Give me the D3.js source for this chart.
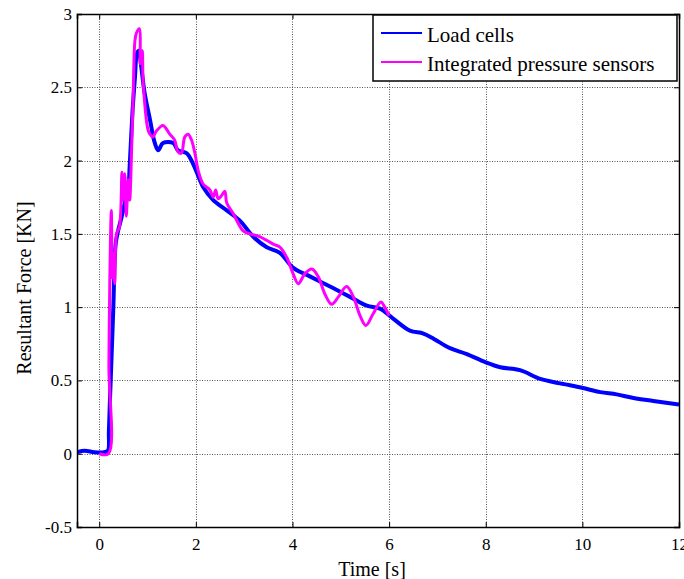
<!DOCTYPE html>
<html>
<head>
<meta charset="utf-8">
<script src="https://cdn.jsdelivr.net/npm/d3@7"></script>
<style>
  html, body { margin: 0; padding: 0; background: #fff; }
  svg { display: block; }
  text { font-family: "Liberation Serif", "Times New Roman", serif; fill: #000; }
</style>
</head>
<body>
<svg id="chart" width="684" height="579"></svg>
<script>
// ---- data ----
const xTicks = [0, 2, 4, 6, 8, 10, 12];
const yTicks = [-0.5, 0, 0.5, 1, 1.5, 2, 2.5, 3];
const seriesNames = ["Load cells", "Integrated pressure sensors"];
const seriesColors = ["#0000ff", "#ff00ff"];

const loadTime = [-0.46, -0.3, -0.1, 0.1, 0.18, 0.20, 0.22, 0.24, 0.29, 0.34, 0.39, 0.46, 0.53, 0.60, 0.63, 0.69, 0.74, 0.78, 0.82, 0.87, 0.94, 1.05, 1.15, 1.22, 1.32, 1.53, 1.63, 1.81, 1.94, 2.08, 2.15, 2.36, 2.64, 2.91, 3.19, 3.46, 3.74, 4.01, 4.36, 4.84, 5.19, 5.54, 5.81, 6.09, 6.43, 6.71, 6.92, 7.26, 7.61, 7.99, 8.30, 8.71, 9.13, 9.54, 9.99, 10.37, 10.71, 11.06, 11.47, 12.0];
const loadForce = [0.01, 0.02, 0.01, 0.01, 0.02, 0.15, 0.35, 0.52, 0.98, 1.43, 1.52, 1.61, 1.71, 1.80, 1.96, 2.34, 2.57, 2.73, 2.75, 2.64, 2.46, 2.28, 2.12, 2.07, 2.12, 2.12, 2.07, 2.05, 1.98, 1.87, 1.82, 1.73, 1.66, 1.59, 1.48, 1.41, 1.37, 1.27, 1.21, 1.13, 1.07, 1.01, 0.99, 0.92, 0.84, 0.82, 0.785, 0.72, 0.68, 0.625, 0.59, 0.57, 0.51, 0.48, 0.45, 0.42, 0.405, 0.38, 0.36, 0.335];

const pressTime = [0, 0.19, 0.20, 0.22, 0.25, 0.27, 0.29, 0.32, 0.36, 0.42, 0.47, 0.49, 0.53, 0.56, 0.60, 0.63, 0.67, 0.70, 0.74, 0.77, 0.83, 0.85, 0.89, 0.91, 1.01, 1.05, 1.11, 1.18, 1.32, 1.46, 1.56, 1.63, 1.70, 1.77, 1.84, 1.91, 1.98, 2.05, 2.15, 2.29, 2.36, 2.41, 2.46, 2.53, 2.60, 2.64, 2.77, 2.98, 3.12, 3.33, 3.60, 3.74, 3.88, 4.01, 4.12, 4.26, 4.40, 4.53, 4.67, 4.81, 4.95, 5.12, 5.26, 5.40, 5.52, 5.67, 5.83, 5.91, 6.00];
const pressForce = [0, 0, 0.6, 1.2, 1.66, 1.2, 1.37, 1.16, 1.50, 1.55, 1.92, 1.73, 1.91, 1.62, 1.87, 1.73, 2.07, 2.41, 2.82, 2.87, 2.90, 2.66, 2.75, 2.53, 2.21, 2.18, 2.16, 2.20, 2.24, 2.18, 2.14, 2.06, 2.05, 2.16, 2.18, 2.14, 2.05, 1.93, 1.84, 1.80, 1.75, 1.80, 1.74, 1.76, 1.79, 1.71, 1.64, 1.52, 1.50, 1.48, 1.43, 1.41, 1.34, 1.23, 1.16, 1.23, 1.26, 1.21, 1.09, 1.02, 1.07, 1.14, 1.07, 0.94, 0.875, 0.955, 1.035, 1.00, 0.94];

// ---- layout ----
const L = 77, R = 679, T = 14, B = 527;
const svg = d3.select("#chart");
const x = d3.scaleLinear().domain([-0.46, 12]).range([L, R]);
const y = d3.scaleLinear().domain([-0.5, 3]).range([B, T]);

// grid
const grid = svg.append("g").attr("stroke", "#555").attr("stroke-width", 1).attr("stroke-dasharray", "1,1.5");
grid.selectAll("line.gx").data(xTicks).join("line")
  .attr("x1", d => Math.round(x(d)) + 0.5).attr("x2", d => Math.round(x(d)) + 0.5)
  .attr("y1", T).attr("y2", B);
grid.selectAll("line.gy").data(yTicks).join("line")
  .attr("y1", d => Math.round(y(d)) + 0.5).attr("y2", d => Math.round(y(d)) + 0.5)
  .attr("x1", L).attr("x2", R);

// lines
const line = d3.line().x(d => x(d[0])).y(d => y(d[1])).curve(d3.curveCatmullRom.alpha(0.5));
svg.append("clipPath").attr("id", "clip").append("rect")
  .attr("x", L).attr("y", T).attr("width", R - L).attr("height", B - T);
const plot = svg.append("g").attr("clip-path", "url(#clip)");
plot.append("path").datum(d3.zip(loadTime, loadForce))
  .attr("fill", "none").attr("stroke", seriesColors[0]).attr("stroke-width", 4)
  .attr("stroke-linejoin", "round").attr("d", line);
plot.append("path").datum(d3.zip(pressTime, pressForce))
  .attr("fill", "none").attr("stroke", seriesColors[1]).attr("stroke-width", 3)
  .attr("stroke-linejoin", "round").attr("d", line);

// axes
const fontSize = "17px";
const axB = svg.append("g").attr("transform", `translate(0,${B})`)
  .call(d3.axisBottom(x).tickValues(xTicks).tickSize(-5).tickPadding(11).tickFormat(d3.format("")));
const axT = svg.append("g").attr("transform", `translate(0,${T})`)
  .call(d3.axisTop(x).tickValues(xTicks).tickSize(-5).tickFormat(""));
const axL = svg.append("g").attr("transform", `translate(${L},0)`)
  .call(d3.axisLeft(y).tickValues(yTicks).tickSize(-5).tickPadding(5).tickFormat(d3.format("")));
const axR = svg.append("g").attr("transform", `translate(${R},0)`)
  .call(d3.axisRight(y).tickValues(yTicks).tickSize(-5).tickFormat(""));
[axB, axT, axL, axR].forEach(g => {
  g.select(".domain").attr("stroke", "#000").attr("stroke-width", 1.5);
  g.selectAll(".tick line").attr("stroke", "#000");
  g.selectAll("text").style("font-family", "Liberation Serif").style("font-size", fontSize).attr("fill", "#000");
});
axL.selectAll(".tick text").text(d => d === -0.5 ? "-0.5" : d3.format("")(d));

// axis labels
svg.append("text").attr("x", 372).attr("y", 576).attr("text-anchor", "middle")
  .style("font-size", "20px").text("Time [s]");
svg.append("text").attr("transform", "translate(31,288) rotate(-90)").attr("text-anchor", "middle")
  .style("font-size", "20px").text("Resultant Force [KN]");

// legend
const lg = svg.append("g");
lg.append("rect").attr("x", 373).attr("y", 15).attr("width", 304).attr("height", 66)
  .attr("fill", "#fff").attr("stroke", "#000").attr("stroke-width", 1.5);
const rows = lg.selectAll("g.row").data(seriesNames).join("g")
  .attr("transform", (d, i) => `translate(0,${i === 0 ? 33 : 62})`);
rows.append("line").attr("x1", 381).attr("x2", 422).attr("y1", 0).attr("y2", 0)
  .attr("stroke", (d, i) => seriesColors[i]).attr("stroke-width", 2);
rows.append("text").attr("x", 427).attr("y", 9).style("font-size", "21px").text(d => d);
</script>
</body>
</html>
